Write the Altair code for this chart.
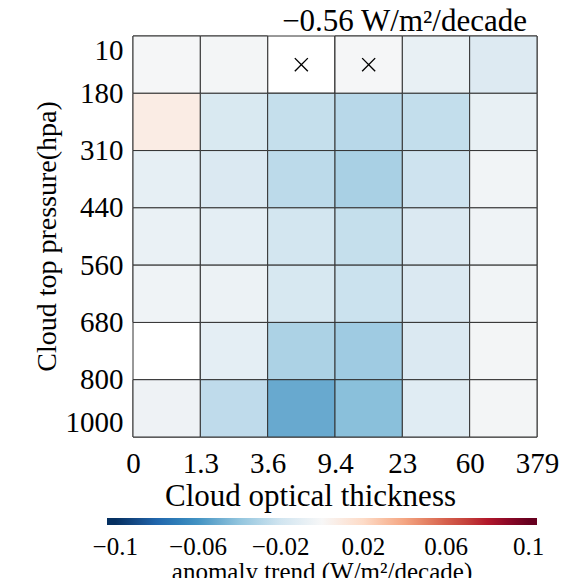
import json
import altair as alt
import pandas as pd

# ---- data ----
cot_edges = ["0", "1.3", "3.6", "9.4", "23", "60", "379"]
ctp_edges = ["10", "180", "310", "440", "560", "680", "800", "1000"]

# rows from top (10-180 hPa) to bottom (800-1000 hPa), columns low->high optical thickness
row_10_180 = [-0.001, -0.002, None, -0.001, -0.008, -0.014]
row_180_310 = [0.008, -0.016, -0.024, -0.028, -0.0245, -0.008]
row_310_440 = [-0.009, -0.015, -0.027, -0.033, -0.021, -0.003]
row_440_560 = [-0.007, -0.010, -0.019, -0.024, -0.015, -0.004]
row_560_680 = [-0.004, -0.006, -0.017, -0.022, -0.015, -0.003]
row_680_800 = [None, -0.010, -0.032, -0.036, -0.015, -0.002]
row_800_1000 = [-0.005, -0.026, -0.051, -0.042, -0.012, -0.002]
trend_rows = [row_10_180, row_180_310, row_310_440, row_440_560,
              row_560_680, row_680_800, row_800_1000]

sig_rows = [0, 0]
sig_cols = [2, 3]

legend_ticks = [-0.1, -0.06, -0.02, 0.02, 0.06, 0.1]
# colour stops; the outermost pair stands for the colourbar's extension ends
color_stops = [-0.104, -0.1, -0.08, -0.06, -0.04, -0.02, 0.0,
               0.02, 0.04, 0.06, 0.08, 0.1, 0.104]
rdbu_r = ["#053061", "#053061", "#2166ac", "#4393c3", "#92c5de", "#d1e5f0",
          "#f7f7f7", "#fddbc7", "#f4a582", "#d6604d", "#b2182b", "#67001f",
          "#67001f"]
title_text = "\u22120.56 W/m\u00b2/decade"

# ---- table ----
sig_set = set(zip(sig_rows, sig_cols))
records = []
for r, row in enumerate(trend_rows):
    for c, v in enumerate(row):
        records.append(dict(c0=c, c1=c + 1, r0=r, r1=r + 1,
                            cx=c + 0.5, cy=r + 0.5, v=v,
                            sig=(r, c) in sig_set))
df = pd.DataFrame(records)

FONT = "Liberation Serif"
FS = 29

xs = alt.Scale(domain=[0, len(cot_edges) - 1], nice=False, zero=False)
ys = alt.Scale(domain=[0, len(ctp_edges) - 1], nice=False, zero=False, reverse=True)

xaxis = alt.Axis(values=list(range(len(cot_edges))),
                 labelExpr=f"{json.dumps(cot_edges)}[datum.value]",
                 ticks=False, domain=False, grid=False, labelFlush=False,
                 labelOverlap=False, labelFont=FONT, labelFontSize=FS,
                 labelColor="black", labelPadding=12,
                 title="Cloud optical thickness", titleFont=FONT,
                 titleFontSize=31, titleFontWeight="normal", titleColor="black",
                 titleX=177, titleY=68, titleAlign="center",
                 titleBaseline="alphabetic")
yaxis = alt.Axis(values=list(range(len(ctp_edges))),
                 labelExpr=f"{json.dumps(ctp_edges)}[datum.value]",
                 ticks=False, domain=False, grid=False, labelFlush=True,
                 labelOverlap=False, labelFont=FONT, labelFontSize=FS,
                 labelColor="black", labelPadding=10,
                 title="Cloud top pressure(hpa)", titleFont=FONT,
                 titleFontSize=28, titleFontWeight="normal", titleColor="black",
                 titleX=-78, titleY=200, titleAngle=270, titleAlign="center",
                 titleBaseline="alphabetic")

X = alt.X("c0:Q", scale=xs, axis=xaxis)
Y = alt.Y("r0:Q", scale=ys, axis=yaxis)

base = alt.Chart(df)

bg = base.mark_rect(fill="white", stroke="#333333", strokeWidth=1).encode(
    x=X, x2="c1:Q", y=Y, y2="r1:Q")

heat = base.mark_rect(stroke="#333333", strokeWidth=1).encode(
    x=X, x2="c1:Q", y=Y, y2="r1:Q",
    color=alt.Color(
        "v:Q",
        scale=alt.Scale(domain=color_stops, range=rdbu_r, type="linear"),
        legend=alt.Legend(
            orient="none", direction="horizontal", legendX=-26, legendY=482,
            gradientLength=430, gradientThickness=7, gradientStrokeWidth=0,
            values=legend_ticks,
            labelExpr="replace(format(datum.value, '.2~f'), '-', '\u2212')",
            labelFont=FONT, labelFontSize=25, labelColor="black",
            labelAlign="center", labelOffset=10, labelOverlap=False,
            title="anomaly trend (W/m\u00b2/decade)", titleOrient="bottom",
            titleAnchor="middle", titleFont=FONT, titleFontSize=25,
            titleLimit=800, titleFontWeight="normal", titleColor="black",
            titlePadding=0)),
)

marks = base.mark_point(
    shape="M-1,-1L1,1M-1,1L1,-1", size=170, filled=False,
    color="black", strokeWidth=1.4, opacity=1).encode(
    x=alt.X("cx:Q", scale=xs, axis=xaxis),
    y=alt.Y("cy:Q", scale=ys, axis=yaxis)).transform_filter("datum.sig")

chart = alt.layer(bg, heat, marks).properties(
    width=404, height=401,
    title=alt.TitleParams(text=title_text, anchor="end", frame="group",
                          font=FONT, fontSize=31, fontWeight="normal",
                          color="black", baseline="alphabetic", offset=6,
                          dx=-10, dy=32),
    autosize=alt.AutoSizeParams(type="none"),
    padding={"left": 133, "top": 36, "right": 27, "bottom": 141},
).configure_view(strokeWidth=0).configure(background="white")

chart.save("out.html", embed_options={"renderer": "svg", "actions": False})
